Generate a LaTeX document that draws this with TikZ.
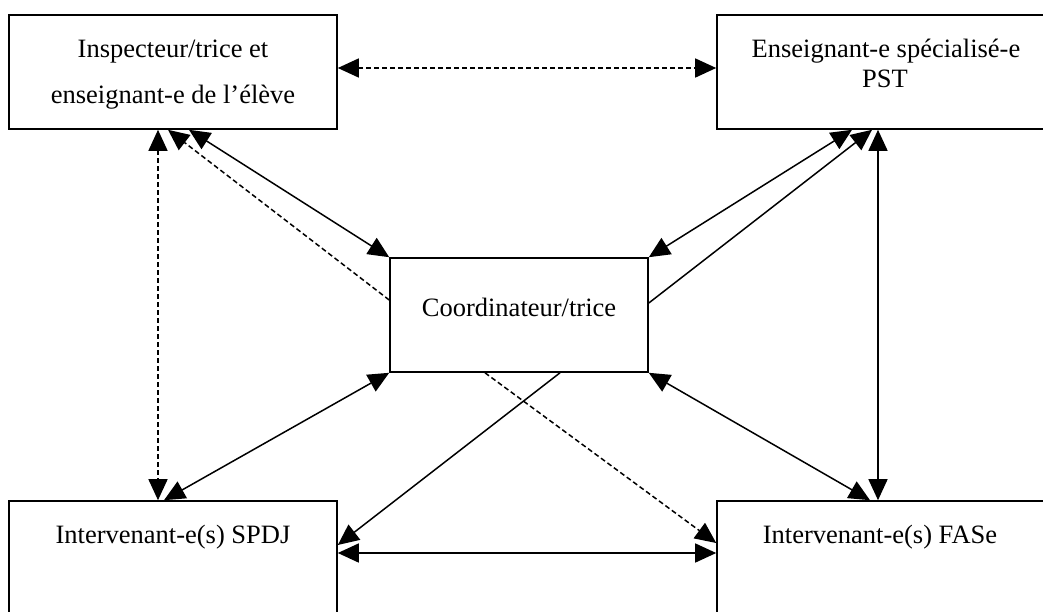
\documentclass[tikz,border=0pt]{standalone}
\usepackage{fontspec}
\setmainfont{Liberation Serif}
\usetikzlibrary{arrows.meta}
\begin{document}
\begin{tikzpicture}[x=1pt,y=-1pt,
  box/.style={draw,line width=1.6pt,rectangle,inner sep=0pt},
  lbl/.style={anchor=base,inner sep=0pt,font=\fontsize{26.5}{30}\selectfont},
  conn/.style={line width=1.5pt},
  dsh/.style={conn,dash pattern=on 5pt off 3pt},
  tip/.tip={Triangle[length=21pt,width=19pt]},
  both/.style={tip-tip},
  one/.style={-tip}]
\useasboundingbox (0,0) rectangle (1043,611);
\clip (0,0) rectangle (1043,611);
% boxes
\node[box,minimum width=328pt,minimum height=114pt] (tl) at (173,72) {};
\node[box,minimum width=333pt,minimum height=114pt] (tr) at (883.5,72) {};
\node[box,minimum width=258pt,minimum height=114pt] (c) at (519,315) {};
\node[box,minimum width=328pt,minimum height=118pt] (bl) at (173,560) {};
\node[box,minimum width=333pt,minimum height=118pt] (br) at (883.5,560) {};
% texts
\node[lbl] (tl1) at (173,57) {Inspecteur/trice et};
\node[lbl] (tl2) at (173,103) {enseignant-e de l’élève};
\node[lbl] (tr1) at (886,57) {Enseignant-e spécialisé-e};
\node[lbl] (tr2) at (885,87) {PST};
\node[lbl] (ct) at (519,316) {Coordinateur/trice};
\node[lbl] (blt) at (173,543) {Intervenant-e(s) SPDJ};
\node[lbl] (brt) at (880,543) {Intervenant-e(s) FASe};
% connectors
\draw[dsh,both] ([yshift=4pt]tl.east) -- ([yshift=4pt]tr.west);
\draw[conn,both] ([yshift=7pt]bl.east) -- ([yshift=7pt]br.west);
\draw[dsh,both] ([xshift=-15pt]tl.south) -- ([xshift=-15pt]bl.north);
\draw[conn,both] ([xshift=-5.5pt]tr.south) -- ([xshift=-5.5pt]br.north);
\draw[conn,both] ([xshift=16pt]tl.south) -- (c.north west);
\draw[dsh,one] ([yshift=15pt]c.west) -- ([xshift=-5pt]tl.south);
\draw[conn,both] ([xshift=-31.5pt]tr.south) -- (c.north east);
\draw[conn,one] ([yshift=12pt]c.east) -- ([xshift=-11.5pt]tr.south);
\draw[conn,both] (c.south west) -- ([xshift=-9pt]bl.north);
\draw[conn,one] ([xshift=41pt]c.south) -- ([yshift=15pt]bl.east);
\draw[dsh,one] ([xshift=-34pt]c.south) -- ([yshift=17pt]br.west);
\draw[conn,both] (c.south east) -- ([xshift=-13.5pt]br.north);
\end{tikzpicture}
\end{document}
